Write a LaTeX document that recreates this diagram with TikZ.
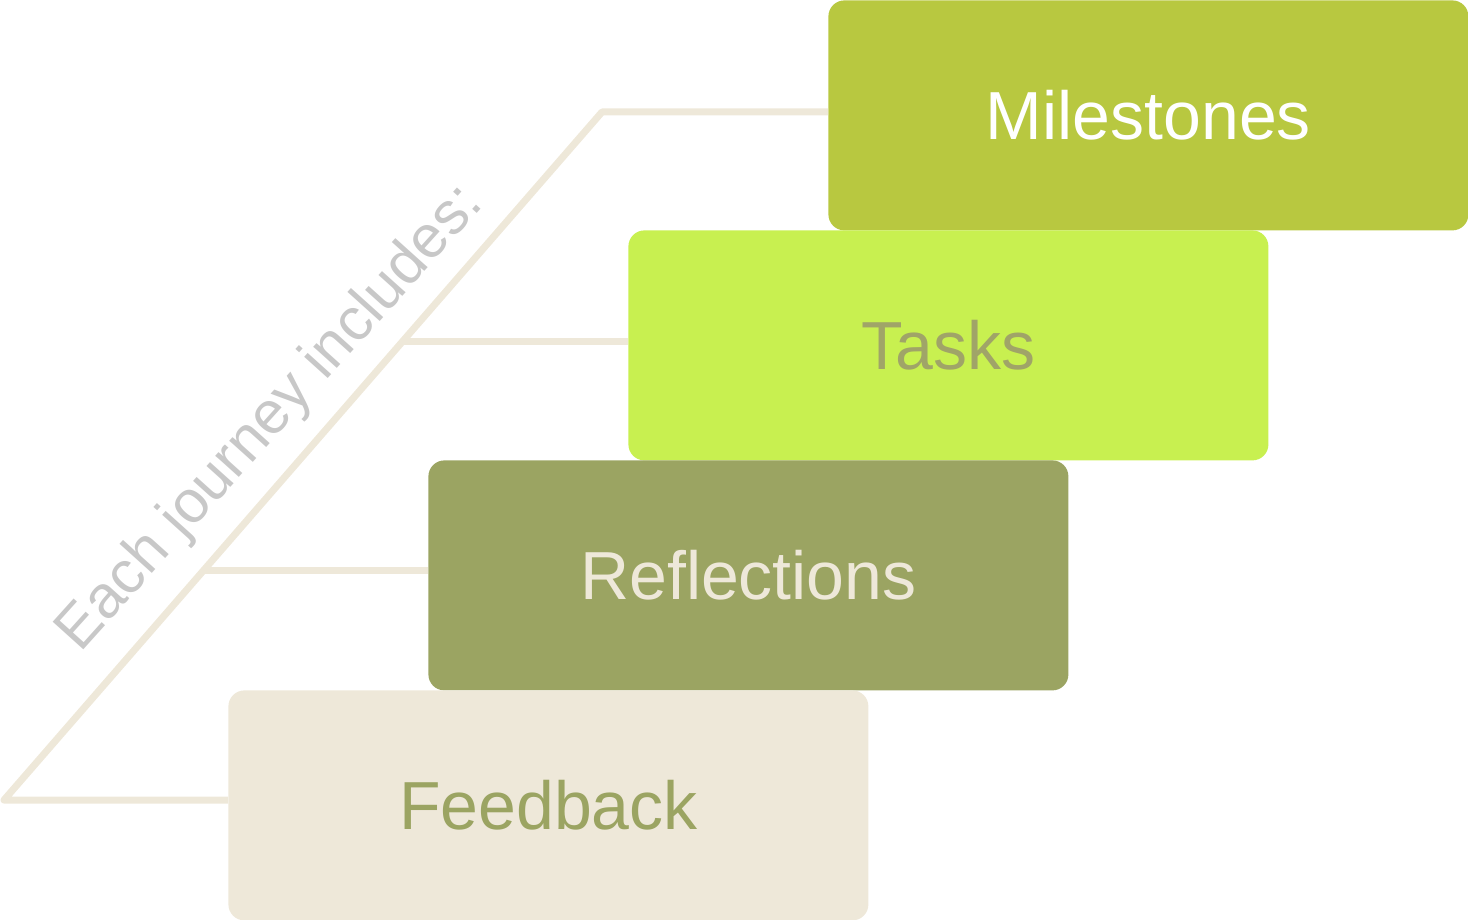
\documentclass[tikz,border=0pt]{standalone}
\usepackage{fontspec}
\setmainfont{Liberation Sans}
\usetikzlibrary{calc}

\definecolor{msgreen}{RGB}{184,200,64}
\definecolor{tkgreen}{RGB}{200,240,80}
\definecolor{rfolive}{RGB}{155,164,98}
\definecolor{fbcream}{RGB}{238,232,217}
\definecolor{tktext}{RGB}{160,164,104}
\definecolor{capgray}{RGB}{200,200,200}

\begin{document}
\begin{tikzpicture}[x=0.5pt,y=0.5pt,yscale=-1,xscale=1,
  stepbox/.style={anchor=north west, rounded corners=8pt, minimum width=320pt,
    minimum height=115pt, inner sep=0pt, font=\fontsize{34}{40}\selectfont},
  rail/.style={draw=fbcream, line width=3.5pt, line join=round}]
\useasboundingbox (0,0) rectangle (1468,920);

%Boxes, one step down and left each
\node[stepbox, fill=msgreen, text=white] (ms) at (828,0) {Milestones};
\node[stepbox, fill=tkgreen, text=tktext] (tk) at (628,230) {Tasks};
\node[stepbox, fill=rfolive, text=fbcream] (rf) at (428,460) {Reflections};
\node[stepbox, fill=fbcream, text=rfolive] (fb) at (228,690) {Feedback};

%Rail with its branches
\coordinate (base) at (4,800);
\coordinate (apex) at (602,112);
\coordinate (b1) at ($(base)!1/3!(apex)$);
\coordinate (b2) at ($(base)!2/3!(apex)$);
\draw[rail] (fb.west |- base) -- (base) -- (apex) -- (apex -| ms.west);
\draw[rail] (b1) -- (b1 -| rf.west);
\draw[rail] (b2) -- (b2 -| tk.west);

% Text Node
\node[rotate=48, text=capgray, font=\fontsize{30}{36}\selectfont] (cap) at (271,419) {Each journey includes:};

\end{tikzpicture}
\end{document}
